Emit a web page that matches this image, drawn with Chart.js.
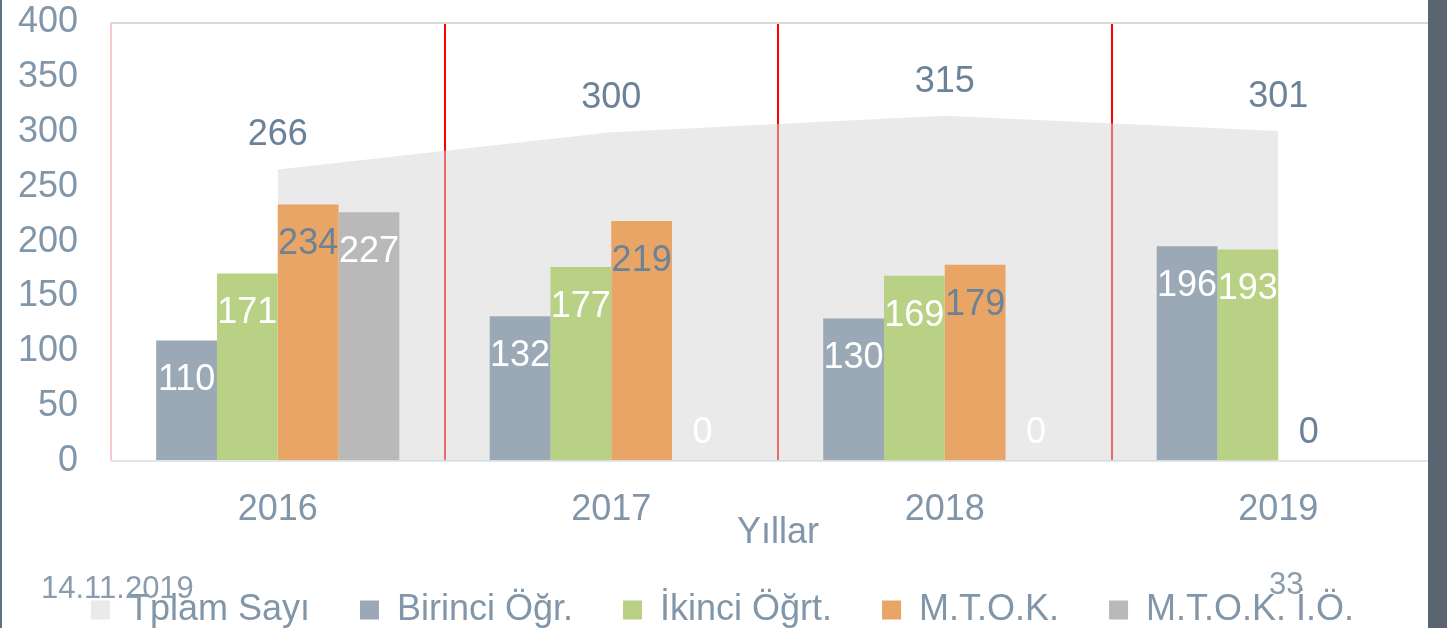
<!DOCTYPE html>
<html>
<head>
    <meta charset="utf-8">
    <script src="https://cdn.jsdelivr.net/npm/chart.js"></script>
    <style>
        body { margin: 0; background: #fff; }
        #wrap { position: relative; width: 1447px; height: 628px; overflow: hidden; }
        .foot { position: absolute; font: 31px "Liberation Sans", Arial, sans-serif; line-height: 31px; color: #8a9cad; }
    </style>
</head>
<body>
<div id="wrap">
    <canvas id="ogrenciChart"></canvas>
    <div style="position:absolute;left:0;top:0;width:2px;height:628px;background:#5f7282"></div>
    <div style="position:absolute;left:1428px;top:0;width:19px;height:628px;background:#5a6571"></div>
    <div class="foot" style="left:41px;top:572px">14.11.2019</div>
    <div class="foot" style="left:1269px;top:568px">33</div>
</div>
<script>
const years = ['2016', '2017', '2018', '2019']
const toplamSayi = [266, 300, 315, 301]
const birinciOgr = [110, 132, 130, 196]
const ikinciOgrt = [171, 177, 169, 193]
const mtok = [234, 219, 179, 0]
const mtokIO = [227, 0, 0, null]

const textColor = '#8196a9'
const darkLabel = '#6b8298'
const fontFamily = '"Liberation Sans", Arial, sans-serif'

// draws the numbers on bars and above the area
const valueLabels = {
    id: 'valueLabels',
    afterDatasetsDraw(chart) {
        const ctx = chart.ctx
        ctx.save()
        ctx.font = '36px ' + fontFamily
        ctx.textAlign = 'center'
        ctx.textBaseline = 'middle'
        chart.data.datasets.forEach((ds, i) => {
            const meta = chart.getDatasetMeta(i)
            meta.data.forEach((el, j) => {
                const v = ds.data[j]
                if (v === null || v === undefined) return
                let y
                if (meta.type === 'line') y = el.y - 34
                else y = Math.min(el.y + 40, el.base - 28)
                ctx.fillStyle = ds.labelColor
                ctx.fillText(String(v), el.x, y)
            })
        })
        ctx.restore()
    }
}

new Chart(document.getElementById('ogrenciChart'), {
    type: 'bar',
    data: {
        labels: years,
        datasets: [
            {
                type: 'line',
                label: 'Tplam Sayı',
                data: toplamSayi,
                fill: 'origin',
                backgroundColor: 'rgba(214,214,214,0.5)',
                borderColor: 'rgba(0,0,0,0)',
                pointRadius: 0,
                tension: 0,
                order: 10,
                labelColor: darkLabel
            },
            { label: 'Birinci Öğr.', data: birinciOgr, backgroundColor: '#9aa9b5', order: 1, labelColor: '#ffffff' },
            { label: 'İkinci Öğrt.', data: ikinciOgrt, backgroundColor: '#b9d184', order: 1, labelColor: '#ffffff' },
            { label: 'M.T.O.K.', data: mtok, backgroundColor: '#e8a565', order: 1, labelColor: darkLabel },
            { label: 'M.T.O.K. İ.Ö.', data: mtokIO, backgroundColor: '#b9b9b9', order: 1, labelColor: '#ffffff' }
        ]
    },
    options: {
        responsive: true,
        maintainAspectRatio: false,
        animation: false,
        datasets: { bar: { barPercentage: 1, categoryPercentage: 0.729 } },
        layout: { padding: { top: 0, right: 2, left: 0, bottom: -10 } },
        plugins: {
            tooltip: { enabled: false },
            legend: {
                position: 'bottom',
                labels: {
                    color: textColor,
                    font: { family: fontFamily, size: 36 },
                    boxWidth: 19,
                    boxHeight: 19,
                    padding: 50,
                    sort: (a, b) => a.datasetIndex - b.datasetIndex
                }
            }
        },
        scales: {
            x: {
                offset: true,
                border: { display: false },
                grid: {
                    offset: true,
                    drawTicks: false,
                    lineWidth: 2,
                    color: ctx => ctx.index === 0 ? '#f6caca' : (ctx.index === 4 ? '#d9d9d9' : '#ff0000')
                },
                ticks: { color: textColor, font: { family: fontFamily, size: 36 }, padding: 27 },
                title: {
                    display: true,
                    text: 'Yıllar',
                    color: textColor,
                    font: { family: fontFamily, size: 36 },
                    padding: { top: 0, bottom: -13 }
                },
                afterFit: scale => { scale.height = 81 }
            },
            y: {
                min: 0,
                max: 400,
                border: { display: false },
                grid: {
                    drawTicks: false,
                    lineWidth: 2,
                    color: ctx => ctx.tick.value === 400 ? '#d9d9d9' : (ctx.tick.value === 0 ? '#dfe5ea' : 'rgba(0,0,0,0)')
                },
                ticks: { stepSize: 50, color: textColor, font: { family: fontFamily, size: 36 }, padding: 33 },
                afterFit: scale => { scale.width = 111; scale.paddingTop = 22.5 }
            }
        }
    },
    plugins: [valueLabels]
})
</script>
</body>
</html>
